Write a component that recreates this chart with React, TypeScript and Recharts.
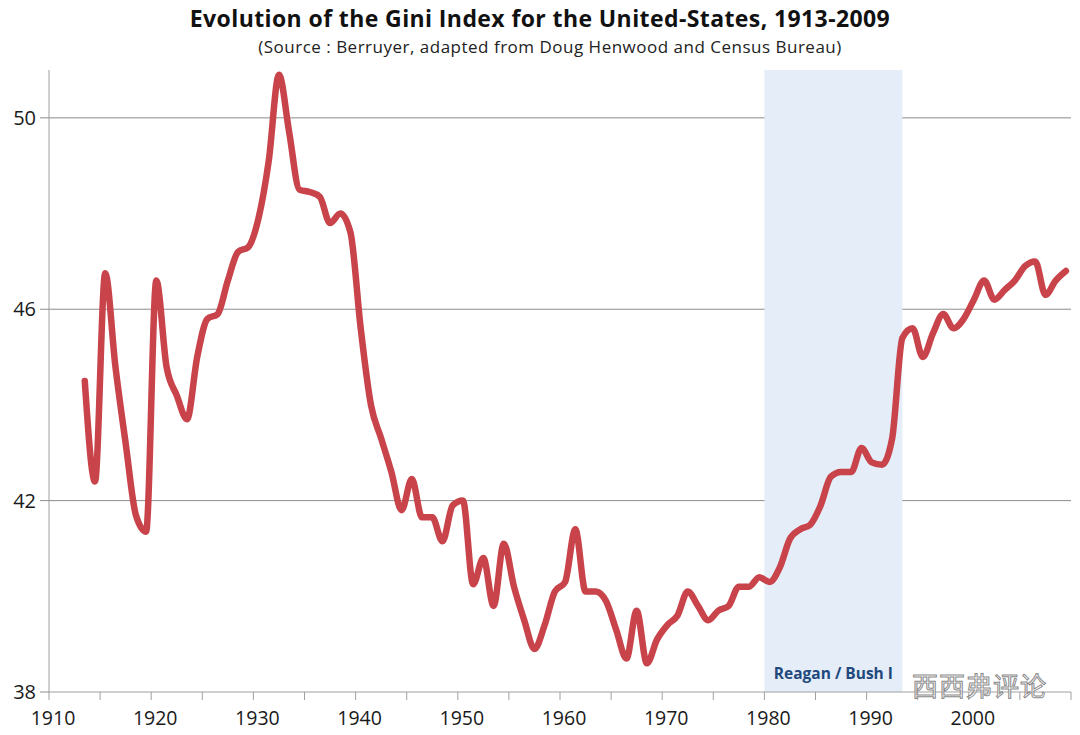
import React from 'react';
import {
  LineChart,
  Line,
  XAxis,
  YAxis,
  CartesianGrid,
  ReferenceArea,
} from 'recharts';

// Gini index (x100), one value per year, 1913-2009
const gini1910s = [44.5, 42.4, 46.75, 44.8, 43.2, 41.7, 41.35];
const gini1920s = [46.6, 44.8, 44.2, 43.7, 45.0, 45.8, 45.9, 46.6, 47.2, 47.3];
const gini1930s = [47.9, 49.1, 50.9, 49.7, 48.5, 48.45, 48.35, 47.8, 48.0, 47.6];
const gini1940s = [45.6, 44.0, 43.3, 42.6, 41.8, 42.45, 41.65, 41.65, 41.15, 41.9];
const gini1950s = [42.0, 40.25, 40.8, 39.8, 41.1, 40.2, 39.5, 38.9, 39.4, 40.1];
const gini1960s = [40.3, 41.4, 40.1, 40.1, 39.9, 39.3, 38.7, 39.7, 38.6, 39.1];
const gini1970s = [39.4, 39.6, 40.1, 39.8, 39.5, 39.7, 39.8, 40.2, 40.2, 40.4];
const gini1980s = [40.3, 40.6, 41.2, 41.4, 41.5, 41.9, 42.5, 42.6, 42.6, 43.1];
const gini1990s = [42.8, 42.75, 43.3, 45.4, 45.6, 45.0, 45.5, 45.9, 45.6, 45.8];
const gini2000s = [46.2, 46.6, 46.2, 46.4, 46.6, 46.9, 47.0, 46.3, 46.6, 46.8];

const firstYear = 1913;
const gini = [
  ...gini1910s, ...gini1920s, ...gini1930s, ...gini1940s, ...gini1950s,
  ...gini1960s, ...gini1970s, ...gini1980s, ...gini1990s, ...gini2000s,
];

const xTicks = [1910, 1915, 1920, 1925, 1930, 1935, 1940, 1945, 1950, 1955, 1960,
  1965, 1970, 1975, 1980, 1985, 1990, 1995, 2000, 2005, 2010];
const yTicks = [38, 42, 46, 50];
const gridValues = [42, 46, 50];
// shaded period runs from the 1980 slot edge to the middle of the 1993 slot
const reaganBush = { from: 1980, to: 1993.5, label: 'Reagan / Bush I' };

// Excel category axis: each year sits in the middle of its slot
const data = gini.map((g, i) => ({ x: firstYear + i + 0.5, gini: g }));

const font = '"Open Sans", "Liberation Sans", sans-serif';

export default function App() {
  return (
    <div style={{ position: 'absolute', left: 0, top: 0, width: 1080, height: 735, background: '#fff', fontFamily: font }}>
      <LineChart
        width={1080}
        height={735}
        data={data}
        margin={{ top: 70, right: 9, bottom: 5, left: 0 }}
        style={{ position: 'absolute', left: 0, top: 0 }}
      >
        <ReferenceArea
          x1={reaganBush.from}
          x2={reaganBush.to}
          y1={38}
          y2={51}
          fill="#E4EDF8"
          fillOpacity={1}
          stroke="none"
          label={{
            value: reaganBush.label,
            position: 'insideBottom',
            offset: 13,
            fill: '#1F497D',
            fontWeight: 'bold',
            fontSize: 15.5,
            fontFamily: font,
          }}
        />
        <CartesianGrid vertical={false} horizontalValues={gridValues} stroke="#8c8c8c" strokeWidth={1} />
        <XAxis
          dataKey="x"
          type="number"
          domain={[1910, 2010]}
          ticks={xTicks}
          interval={0}
          tickFormatter={(v: number) => (v % 10 === 0 && v < 2010 ? String(v) : '')}
          axisLine={{ stroke: '#a0a0a0' }}
          tickLine={{ stroke: '#a0a0a0' }}
          tickSize={8}
          tickMargin={11}
          height={38}
          tick={{ fill: '#1a1a1a', fontSize: 19.5, fontFamily: font, dx: 4 }}
        />
        <YAxis
          type="number"
          domain={[38, 51]}
          ticks={yTicks}
          interval={0}
          width={49}
          axisLine={{ stroke: '#a0a0a0' }}
          tickLine={{ stroke: '#8c8c8c' }}
          tickSize={9}
          tickMargin={4}
          tick={{ fill: '#1a1a1a', fontSize: 20, fontFamily: font }}
        />
        <Line
          type="monotone"
          dataKey="gini"
          stroke="#C8434A"
          strokeWidth={6.5}
          strokeLinecap="round"
          strokeLinejoin="round"
          dot={false}
          activeDot={false}
          isAnimationActive={false}
        />
      </LineChart>
      <div style={{ position: 'absolute', top: 2, left: 0, width: 1080, textAlign: 'center', fontSize: 23, fontWeight: 'bold', color: '#111', letterSpacing: 0.4 }}>
        Evolution of the Gini Index for the United-States, 1913-2009
      </div>
      <div style={{ position: 'absolute', top: 35, left: 0, width: 1100, textAlign: 'center', fontSize: 17, color: '#222', letterSpacing: 0.5 }}>
        (Source : Berruyer, adapted from Doug Henwood and Census Bureau)
      </div>
      <div style={{ position: 'absolute', left: 912, top: 666, fontSize: 26, fontFamily: '"Noto Sans CJK SC", sans-serif', color: 'rgba(255,255,255,0.9)', WebkitTextStroke: '1px #8a8a8a', letterSpacing: 1 }}>
        西西弗评论
      </div>
    </div>
  );
}
